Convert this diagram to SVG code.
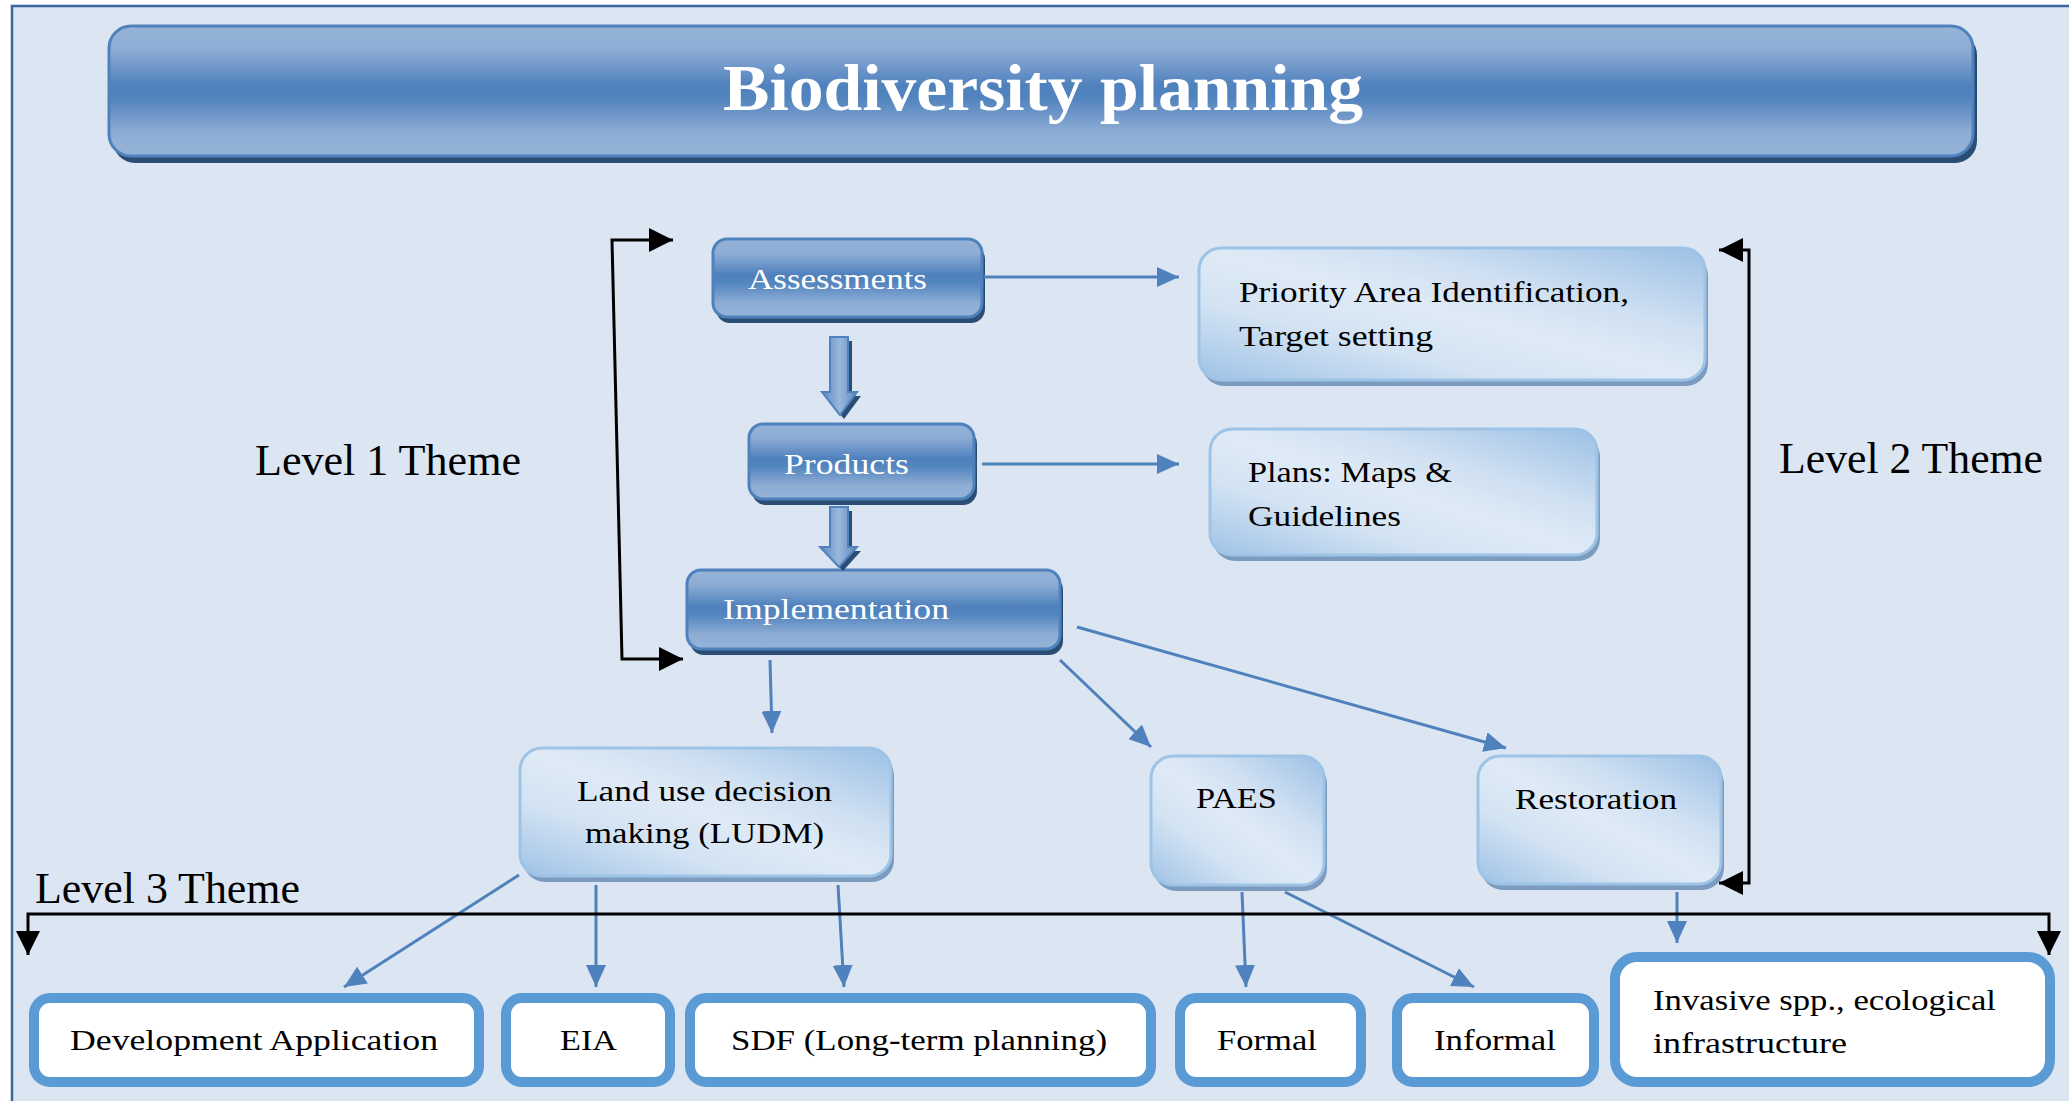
<svg xmlns="http://www.w3.org/2000/svg" width="2069" height="1101" viewBox="0 0 2069 1101">
<defs>
<linearGradient id="gDark" x1="0" y1="0" x2="0" y2="1">
<stop offset="0" stop-color="#95b3d8"/>
<stop offset="0.18" stop-color="#8eadd5"/>
<stop offset="0.46" stop-color="#4f81bd"/>
<stop offset="0.56" stop-color="#5284be"/>
<stop offset="0.82" stop-color="#8eadd5"/>
<stop offset="1" stop-color="#95b3d8"/>
</linearGradient>
<linearGradient id="gLight" x1="0" y1="1" x2="1" y2="0">
<stop offset="0" stop-color="#9fc2e6"/>
<stop offset="0.3" stop-color="#d3e3f3"/>
<stop offset="0.5" stop-color="#dfeaf6"/>
<stop offset="0.68" stop-color="#cfe0f2"/>
<stop offset="1" stop-color="#9cc0e5"/>
</linearGradient>
<linearGradient id="gBlock" x1="0" y1="0" x2="1" y2="0">
<stop offset="0" stop-color="#5a89c2"/>
<stop offset="0.5" stop-color="#9ab7db"/>
<stop offset="1" stop-color="#5a89c2"/>
</linearGradient>
<marker id="mBlue" markerUnits="userSpaceOnUse" markerWidth="24" markerHeight="20" refX="22" refY="10" orient="auto">
<path d="M0,0 L22,10 L0,20 z" fill="#4f81bd"/>
</marker>
<marker id="mBlack" markerUnits="userSpaceOnUse" markerWidth="26" markerHeight="24" refX="24" refY="12" orient="auto-start-reverse">
<path d="M0,0 L24,12 L0,24 z" fill="#000"/>
</marker>
</defs>
<style>
.txt{font-family:"Liberation Serif","Times New Roman",serif;}
.dk rect.s{fill:#2b4c74;}
.dk rect.b{fill:url(#gDark);stroke:#4f81bd;stroke-width:3;}
.dk text{fill:#fff;font-size:30px;}
.lt rect.s{fill:#7b9bbf;}
.lt rect.b{fill:url(#gLight);stroke:#9dc3e6;stroke-width:3;}
.lt text{fill:#000;font-size:29px;}
.wh rect{fill:#fff;stroke:#5b9bd5;stroke-width:10;}
.wh text{fill:#000;font-size:29px;}
.lvl{font-size:44px;fill:#000;}
.cb{stroke:#4f81bd;stroke-width:3;fill:none;marker-end:url(#mBlue);}
.ck{stroke:#000;stroke-width:3;fill:none;marker-start:url(#mBlack);marker-end:url(#mBlack);}
</style>
<rect x="0" y="0" width="2069" height="1101" fill="#fff"/>
<rect x="12" y="6" width="2057" height="1095" fill="#dce6f2"/>
<path d="M12,1101 L12,6 L2069,6" fill="none" stroke="#3a679e" stroke-width="2.5"/>

<g id="title" class="dk txt">
<rect class="s" x="113" y="33" width="1864" height="130" rx="22"/>
<rect class="b" x="109" y="26" width="1864" height="130" rx="22"/>
<text x="1043" y="110" text-anchor="middle" font-weight="bold" style="font-size:66px" textLength="640" lengthAdjust="spacingAndGlyphs">Biodiversity planning</text>
</g>

<g id="label-level1" class="txt"><text class="lvl" x="255" y="475" textLength="266" lengthAdjust="spacingAndGlyphs">Level 1 Theme</text></g>
<g id="label-level2" class="txt"><text class="lvl" x="1779" y="473" textLength="264" lengthAdjust="spacingAndGlyphs">Level 2 Theme</text></g>
<g id="label-level3" class="txt"><text class="lvl" x="35" y="903" textLength="265" lengthAdjust="spacingAndGlyphs">Level 3 Theme</text></g>

<g id="assessments" class="dk txt">
<rect class="s" x="716" y="245" width="269" height="78" rx="14"/>
<rect class="b" x="713" y="239" width="269" height="78" rx="14"/>
<text x="748" y="289" textLength="179" lengthAdjust="spacingAndGlyphs">Assessments</text>
</g>
<g id="products" class="dk txt">
<rect class="s" x="752" y="430" width="225" height="75" rx="14"/>
<rect class="b" x="749" y="424" width="225" height="75" rx="14"/>
<text x="784" y="474" textLength="125" lengthAdjust="spacingAndGlyphs">Products</text>
</g>
<g id="implementation" class="dk txt">
<rect class="s" x="690" y="576" width="373" height="79" rx="14"/>
<rect class="b" x="687" y="570" width="373" height="79" rx="14"/>
<text x="723" y="619" textLength="226" lengthAdjust="spacingAndGlyphs">Implementation</text>
</g>

<g id="priority" class="lt txt">
<rect class="s" x="1202" y="254" width="506" height="132" rx="22"/>
<rect class="b" x="1199" y="248" width="506" height="132" rx="22"/>
<text x="1239" y="302" textLength="390" lengthAdjust="spacingAndGlyphs">Priority Area Identification,</text>
<text x="1239" y="346" textLength="194" lengthAdjust="spacingAndGlyphs">Target setting</text>
</g>
<g id="plans" class="lt txt">
<rect class="s" x="1213" y="435" width="387" height="126" rx="22"/>
<rect class="b" x="1210" y="429" width="387" height="126" rx="22"/>
<text x="1248" y="482" textLength="204" lengthAdjust="spacingAndGlyphs">Plans: Maps &amp;</text>
<text x="1248" y="526" textLength="153" lengthAdjust="spacingAndGlyphs">Guidelines</text>
</g>
<g id="ludm" class="lt txt">
<rect class="s" x="523" y="754" width="371" height="128" rx="22"/>
<rect class="b" x="520" y="748" width="371" height="128" rx="22"/>
<text x="577" y="801" textLength="255" lengthAdjust="spacingAndGlyphs">Land use decision</text>
<text x="585" y="843" textLength="239" lengthAdjust="spacingAndGlyphs">making (LUDM)</text>
</g>
<g id="paes" class="lt txt">
<rect class="s" x="1154" y="762" width="173" height="129" rx="22"/>
<rect class="b" x="1151" y="756" width="173" height="129" rx="22"/>
<text x="1196" y="808" textLength="81" lengthAdjust="spacingAndGlyphs">PAES</text>
</g>
<g id="restoration" class="lt txt">
<rect class="s" x="1481" y="762" width="243" height="128" rx="22"/>
<rect class="b" x="1478" y="756" width="243" height="128" rx="22"/>
<text x="1515" y="809" textLength="162" lengthAdjust="spacingAndGlyphs">Restoration</text>
</g>

<g id="dev-application" class="wh txt">
<rect x="34" y="998" width="445" height="84" rx="16"/>
<text x="70" y="1050" textLength="368" lengthAdjust="spacingAndGlyphs">Development Application</text>
</g>
<g id="eia" class="wh txt">
<rect x="506" y="998" width="164" height="84" rx="16"/>
<text x="560" y="1050" textLength="57" lengthAdjust="spacingAndGlyphs">EIA</text>
</g>
<g id="sdf" class="wh txt">
<rect x="690" y="998" width="461" height="84" rx="16"/>
<text x="731" y="1050" textLength="376" lengthAdjust="spacingAndGlyphs">SDF (Long-term planning)</text>
</g>
<g id="formal" class="wh txt">
<rect x="1180" y="998" width="181" height="84" rx="16"/>
<text x="1217" y="1050" textLength="100" lengthAdjust="spacingAndGlyphs">Formal</text>
</g>
<g id="informal" class="wh txt">
<rect x="1397" y="998" width="197" height="84" rx="16"/>
<text x="1434" y="1050" textLength="122" lengthAdjust="spacingAndGlyphs">Informal</text>
</g>
<g id="invasive" class="wh txt">
<rect x="1615" y="957" width="435" height="125" rx="22"/>
<text x="1653" y="1010" textLength="343" lengthAdjust="spacingAndGlyphs">Invasive spp., ecological</text>
<text x="1653" y="1053" textLength="194" lengthAdjust="spacingAndGlyphs">infrastructure</text>
</g>

<g id="connectors">
<polygon points="834,341 852,341 852,396 861,396 844,419 826,396 834,396" fill="#2b4c74"/>
<polygon points="830,337 848,337 848,392 857,392 840,415 822,392 830,392" fill="url(#gBlock)" stroke="#4f81bd" stroke-width="2"/>
<polygon points="834,511 852,511 852,551 861,551 843,571 824,551 834,551" fill="#2b4c74"/>
<polygon points="830,507 848,507 848,547 857,547 839,567 820,547 830,547" fill="url(#gBlock)" stroke="#4f81bd" stroke-width="2"/>
<path class="cb" d="M984,277 L1179,277"/>
<path class="cb" d="M982,464 L1179,464"/>
<path class="cb" d="M770,660 L772,733"/>
<path class="cb" d="M1060,660 L1151,747"/>
<path class="cb" d="M1077,627 L1506,748"/>
<path class="cb" d="M519,875 L344,987"/>
<path class="cb" d="M596,885 L596,987"/>
<path class="cb" d="M838,885 L844,987"/>
<path class="cb" d="M1242,892 L1246,987"/>
<path class="cb" d="M1285,892 L1474,987"/>
<path class="cb" d="M1677,892 L1677,943"/>
<path class="ck" d="M673,240 L612,240 L622,659 L683,659"/>
<path class="ck" d="M1719,250 L1749,250 L1749,883 L1719,883"/>
<path class="ck" d="M28,955 L28,914 L2049,914 L2049,955"/>
</g>
</svg>
